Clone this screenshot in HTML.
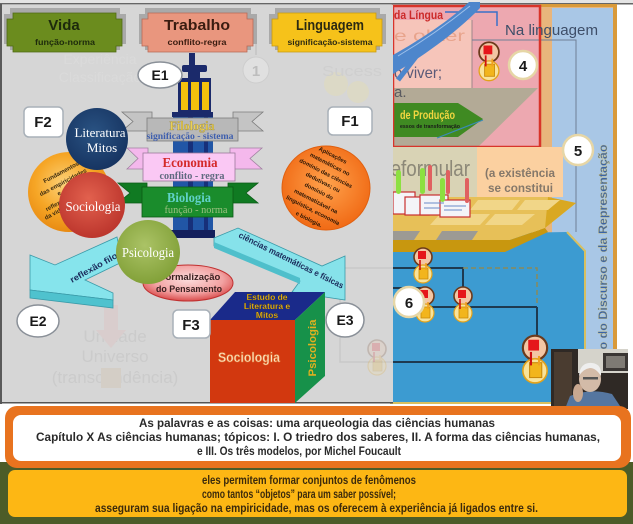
<!DOCTYPE html>
<html><head><meta charset="utf-8">
<style>
html,body{margin:0;padding:0;background:#fff;width:633px;height:524px;overflow:hidden}
svg{display:block}
text{font-family:"Liberation Sans",Arial,sans-serif}
.s{font-family:"Liberation Serif",serif}
</style></head><body>
<svg xmlns="http://www.w3.org/2000/svg" width="633" height="524" viewBox="0 0 633 524">
<defs>
 <radialGradient id="gOr" cx="45%" cy="40%" r="60%"><stop offset="0" stop-color="#fcd27a"/><stop offset="0.6" stop-color="#f6a626"/><stop offset="1" stop-color="#e88a12"/></radialGradient>
 <radialGradient id="gOr2" cx="50%" cy="45%" r="60%"><stop offset="0" stop-color="#ffa24c"/><stop offset="1" stop-color="#ef6510"/></radialGradient>
 <radialGradient id="gSoc" cx="45%" cy="40%" r="65%"><stop offset="0" stop-color="#e2614e"/><stop offset="1" stop-color="#b9322a"/></radialGradient>
 <radialGradient id="gPsi" cx="45%" cy="40%" r="65%"><stop offset="0" stop-color="#abc366"/><stop offset="1" stop-color="#7f9e35"/></radialGradient>
 <radialGradient id="gLit" cx="45%" cy="40%" r="65%"><stop offset="0" stop-color="#2a5383"/><stop offset="1" stop-color="#15325f"/></radialGradient>
 <radialGradient id="gFor" cx="50%" cy="40%" r="65%"><stop offset="0" stop-color="#fbdcdc"/><stop offset="0.6" stop-color="#f2a2a2"/><stop offset="1" stop-color="#d43a3a"/></radialGradient>
 <g id="jar">
  <circle cx="0" cy="-9" r="9" fill="#f3c6a4" stroke="#6b3a1c" stroke-width="1.6"/>
  <rect x="-5" y="-15" width="8" height="8" fill="#e5161b"/>
  <circle cx="0" cy="8" r="9" fill="#f9e39a" stroke="#e3a21a" stroke-width="1.2"/>
  <rect x="-4" y="2" width="9" height="11" fill="#f2b51c" stroke="#c98a0c" stroke-width="0.8"/>
  <path d="M-3,-6 L-3,4" stroke="#d01010" stroke-width="1.6"/>
  <path d="M3,-3 L3,4" stroke="#f0a020" stroke-width="1.6"/>
 </g>
</defs>

<!-- base -->
<rect width="633" height="524" fill="#ffffff"/>
<rect x="0" y="0" width="633" height="4" fill="#e4e4e4"/>
<rect x="0" y="3" width="633" height="1.5" fill="#666"/>

<!-- ===== right background diagram ===== -->
<rect x="540" y="5" width="77" height="399" fill="#e8b57c"/>
<rect x="552" y="8" width="61" height="396" fill="#a9c7e6"/>
<rect x="613" y="5" width="4" height="399" fill="#d99a3a"/>
<rect x="540" y="4" width="77" height="3" fill="#d99a3a"/>

<rect x="393" y="6" width="147" height="141" fill="#eda8b0"/>
<rect x="393" y="20" width="79" height="68" fill="#f6c5ba"/>
<path d="M472,20 V88" stroke="#8a7a80" stroke-width="0.8"/>
<path d="M472,40 H576 V232" fill="none" stroke="#6f7f96" stroke-width="1"/>
<polygon points="393,88 538,88 478,147 393,147" fill="#b3aa96"/>
<polygon points="393,103 458,103 483,119 458,137 393,137" fill="#3f8a22"/>
<path d="M437,138 L483,120" stroke="#3a8ab8" stroke-width="1.2"/>
<text x="400" y="119" font-size="12" font-weight="bold" fill="#f2d640" textLength="55" lengthAdjust="spacingAndGlyphs">de Produção</text>
<text x="400" y="128" font-size="5" font-weight="bold" fill="#1a1a1a" textLength="60" lengthAdjust="spacingAndGlyphs">essos de transformação</text>
<rect x="393" y="6" width="147" height="141" fill="none" stroke="#d8342a" stroke-width="2.5"/>
<text x="394" y="19" font-size="12" font-weight="bold" fill="#cc2a2a" textLength="49" lengthAdjust="spacingAndGlyphs">da Língua</text>
<path d="M445,12 H497 V26" fill="none" stroke="#3a70c8" stroke-width="1.5"/>
<text x="394" y="41" font-size="16" fill="#e8a48c" textLength="71" lengthAdjust="spacingAndGlyphs">e obter</text>
<text x="394" y="78" font-size="16" fill="#5a5a78" textLength="48" lengthAdjust="spacingAndGlyphs">o viver;</text>
<text x="394" y="97" font-size="15" fill="#5a5a60">a.</text>
<path d="M480,2 L469,2 C450,20 420,40 393,55 L393,74 C420,58 455,34 480,8 Z" fill="#4d86cc"/>
<path d="M432,36 L398,80" stroke="#4d86cc" stroke-width="5"/>
<path d="M470,6 C450,22 425,40 398,56" stroke="#9ec0ea" stroke-width="1" fill="none"/>

<text x="505" y="35" font-size="15" fill="#3e4e68" textLength="93" lengthAdjust="spacingAndGlyphs">Na linguagem</text>
<use href="#jar" transform="translate(489,62) scale(1.1)"/>
<circle cx="523" cy="65" r="14" fill="#fff" stroke="#e6d6a6" stroke-width="2.5"/>
<text x="523" y="71" font-size="15" font-weight="bold" fill="#1a1a1a" text-anchor="middle">4</text>

<!-- Reformular band -->
<rect x="378" y="147" width="99" height="50" fill="#d9d3b5"/>
<text x="377" y="176" font-size="22" fill="#8c8878" textLength="93" lengthAdjust="spacingAndGlyphs">Reformular</text>
<rect x="477" y="147" width="86" height="50" fill="#fbd0a0"/>
<text x="485" y="177" font-size="12" font-weight="bold" fill="#85786a" textLength="70" lengthAdjust="spacingAndGlyphs">(a existência</text>
<text x="488" y="192" font-size="12" font-weight="bold" fill="#85786a" textLength="65" lengthAdjust="spacingAndGlyphs">se constitui</text>

<!-- blue area + tray -->
<polygon points="390,235 567,232 585,251 585,404 390,404" fill="#3c9bd1"/>
<path d="M567,232 L585,251 V404" fill="none" stroke="#d8c060" stroke-width="2"/>
<rect x="390" y="402" width="195" height="2" fill="#d8c060"/>
<polygon points="390,197 548,197 576,203 545,228 510,240 390,240" fill="#e7c058"/>
<polygon points="548,197 576,203 545,228" fill="#d9a822"/>
<polygon points="478,200 520,200 512,210 470,210" fill="#f1d688"/>
<polygon points="525,200 560,200 548,210 517,210" fill="#f1d688"/>
<polygon points="440,214 490,214 480,225 430,225" fill="#f1d688"/>
<polygon points="495,214 535,214 522,225 485,225" fill="#f1d688"/>
<polygon points="390,231 420,231 414,240 390,240" fill="#9c9a94"/>
<polygon points="442,231 478,231 472,240 436,240" fill="#9c9a94"/>
<polygon points="390,240 510,240 545,228 548,232 505,252 390,252" fill="#c8970f"/>

<!-- cards & pins -->
<rect x="393" y="192" width="22" height="22" fill="#f4f4f8" stroke="#c83030" stroke-width="1.2"/>
<rect x="405" y="197" width="24" height="18" fill="#f4f4f8" stroke="#c83030" stroke-width="1.2"/>
<rect x="420" y="195" width="28" height="20" fill="#f4f4f8" stroke="#c83030" stroke-width="1.2"/>
<rect x="440" y="200" width="30" height="17" fill="#f4f4f8" stroke="#c83030" stroke-width="1.2"/>
<path d="M444,206 H466 M444,210 H462 M424,203 H444 M424,208 H440" stroke="#6a8ac8" stroke-width="1"/>
<rect x="396" y="170" width="5" height="24" rx="2.5" fill="#8ce040"/>
<rect x="420" y="168" width="5" height="26" rx="2.5" fill="#8ce040"/>
<rect x="440" y="178" width="5" height="24" rx="2.5" fill="#8ce040"/>
<rect x="428" y="165" width="4" height="26" rx="2" fill="#e06060"/>
<rect x="446" y="170" width="4" height="24" rx="2" fill="#e06060"/>
<rect x="465" y="178" width="4" height="25" rx="2" fill="#e06060"/>

<!-- lines in blue -->
<g stroke="#1e3a50" stroke-width="2" fill="none">
 <path d="M390,268 H463 V307"/>
 <path d="M393,288 H422 V307 H537"/>
 <path d="M537,307 V345"/>
 <path d="M390,362 H535"/>
</g>
<path d="M463,268 H537 V305" fill="none" stroke="#8a8a5a" stroke-width="1.5" stroke-dasharray="5,3"/>
<use href="#jar" transform="translate(423,266)"/>
<use href="#jar" transform="translate(425,305)"/>
<use href="#jar" transform="translate(463,305)"/>
<use href="#jar" transform="translate(535,360) scale(1.35)"/>
<circle cx="409" cy="302" r="15" fill="#fff" stroke="#e6d6a6" stroke-width="2.5"/>
<text x="409" y="308" font-size="15" font-weight="bold" fill="#1a1a1a" text-anchor="middle">6</text>

<text transform="translate(607,247) rotate(-90)" font-size="12" font-weight="bold" fill="#3a64a8" stroke="#d8c060" stroke-width="0.3" text-anchor="middle" textLength="205" lengthAdjust="spacingAndGlyphs">o do Discurso e da Representação</text>
<circle cx="578" cy="150" r="15" fill="#fff" stroke="#e6d6a6" stroke-width="2.5"/>
<text x="578" y="156" font-size="15" font-weight="bold" fill="#1a1a1a" text-anchor="middle">5</text>

<!-- webcam -->
<rect x="551" y="349" width="77" height="60" fill="#2f2925"/>
<rect x="578" y="349" width="50" height="24" fill="#d5d3cb"/>
<rect x="603" y="353" width="25" height="18" fill="#3a3634"/>
<rect x="606" y="356" width="19" height="12" fill="#7e7a74"/>
<rect x="554" y="352" width="18" height="57" fill="#4a3c30"/>
<path d="M565,409 L570,396 Q590,388 612,394 L622,409 Z" fill="#5576a0"/>
<ellipse cx="590" cy="379" rx="11" ry="13" fill="#d3bba8"/>
<path d="M579,376 Q580,362 592,363 Q602,364 601,376 Q596,368 590,368 Q583,369 579,376Z" fill="#eeeeee"/>
<rect x="583" y="377" width="15" height="2.5" fill="#555"/>
<ellipse cx="578" cy="393" rx="5" ry="9" fill="#c9a890"/>

<!-- ===== left panel ===== -->
<rect x="0" y="5" width="393" height="398" fill="#d6d6d6"/>
<rect x="0" y="4" width="2" height="400" fill="#5a5a5a"/>
<rect x="0" y="402" width="393" height="1.5" fill="#555"/>

<!-- ghosts -->
<text x="100" y="64" font-size="14" fill="#dadada" text-anchor="middle">Experiência</text>
<text x="100" y="82" font-size="14" fill="#dadada" text-anchor="middle">Classificação</text>
<circle cx="256" cy="70" r="13" fill="#e0e0e0" stroke="#cdcdcd"/>
<text x="256" y="76" font-size="15" font-weight="bold" fill="#bdbdbd" text-anchor="middle">1</text>
<path d="M256,42 V55" stroke="#c8c8c8" stroke-width="2"/>
<circle cx="336" cy="84" r="12" fill="#dcd9c6"/>
<circle cx="358" cy="92" r="11" fill="#dcd9c6"/>
<text x="322" y="76" font-size="15" fill="#cfcfcf" textLength="60" lengthAdjust="spacingAndGlyphs">Sucess</text>
<text x="115" y="342" font-size="17" fill="#cbcbcb" text-anchor="middle">Unidade</text>
<text x="115" y="362" font-size="17" fill="#cbcbcb" text-anchor="middle">Universo</text>
<text x="115" y="383" font-size="17" fill="#cbcbcb" text-anchor="middle">(transcendência)</text>
<path d="M104,305 H118 V330 H126 L111,348 L96,330 H104 Z" fill="#d9cdcd"/>
<rect x="101" y="368" width="20" height="20" fill="#d4cec6"/>
<path d="M340,268 H393 M340,268 V362 H393" stroke="#c8c8c8" stroke-width="1.5" fill="none"/>
<g opacity="0.2"><use href="#jar" transform="translate(377,358)"/></g>

<!-- headers -->
<polygon points="10,8 120,8 120,14 126,14 126,44 120,44 120,50 10,50 10,44 4,44 4,14 10,14" fill="#a9a9a9"/>
<polygon points="13,13 116,13 116,19 122,19 122,46 116,46 116,52 13,52 13,46 7,46 7,19 13,19" fill="#6b8c1e" stroke="#4f6a14" stroke-width="0.8"/>
<text x="64" y="30" font-size="15" font-weight="bold" fill="#1d2a0c" text-anchor="middle">Vida</text>
<text x="65" y="45" font-size="8.5" font-weight="bold" fill="#1d2a0c" text-anchor="middle" textLength="60" lengthAdjust="spacingAndGlyphs">função-norma</text>

<polygon points="145,8 251,8 251,14 257,14 257,44 251,44 251,50 145,50 145,44 139,44 139,14 145,14" fill="#a9a9a9"/>
<polygon points="148,13 247,13 247,19 253,19 253,46 247,46 247,52 148,52 148,46 142,46 142,19 148,19" fill="#e9967e" stroke="#b86a56" stroke-width="0.8"/>
<text x="197" y="30" font-size="15" font-weight="bold" fill="#3a1c10" text-anchor="middle" textLength="66" lengthAdjust="spacingAndGlyphs">Trabalho</text>
<text x="197" y="45" font-size="8.5" font-weight="bold" fill="#3a1c10" text-anchor="middle" textLength="59" lengthAdjust="spacingAndGlyphs">conflito-regra</text>

<polygon points="275,8 380,8 380,14 386,14 386,44 380,44 380,50 275,50 275,44 269,44 269,14 275,14" fill="#a9a9a9"/>
<polygon points="278,13 376,13 376,19 382,19 382,46 376,46 376,52 278,52 278,46 272,46 272,19 278,19" fill="#f6c21a" stroke="#c89a10" stroke-width="0.8"/>
<text x="330" y="30" font-size="15" font-weight="bold" fill="#2c2a12" text-anchor="middle" textLength="68" lengthAdjust="spacingAndGlyphs">Linguagem</text>
<text x="330" y="45" font-size="8.5" font-weight="bold" fill="#2c2a12" text-anchor="middle" textLength="85" lengthAdjust="spacingAndGlyphs">significação-sistema</text>

<!-- tower -->
<rect x="173" y="117" width="40" height="118" fill="#2156a6"/>
<rect x="188" y="117" width="5" height="118" fill="#17307a"/>
<rect x="204" y="117" width="4" height="118" fill="#17307a"/>
<rect x="163" y="230" width="52" height="8" fill="#141f5c"/>
<rect x="189" y="53" width="6" height="13" fill="#1b2a6b"/>
<rect x="182" y="65" width="25" height="7" rx="2" fill="#1b2a6b"/>
<rect x="188" y="72" width="12" height="6" fill="#1b2a6b"/>
<rect x="178" y="78" width="33" height="34" fill="#1b2a6b"/>
<rect x="181" y="82" width="7" height="28" fill="#f4c20d"/>
<rect x="191" y="82" width="8" height="28" fill="#f4c20d"/>
<rect x="202" y="82" width="7" height="28" fill="#f4c20d"/>
<rect x="172" y="112" width="41" height="5" fill="#1b2a6b"/>

<!-- Filologia -->
<polygon points="122,112 152,112 152,131 122,131 133,121.5" fill="#c4c4c4" stroke="#7c7c7c" stroke-width="0.8"/>
<polygon points="263,112 233,112 233,131 263,131 252,121.5" fill="#c4c4c4" stroke="#7c7c7c" stroke-width="0.8"/>
<rect x="147" y="118" width="91" height="23" fill="#b8b8b8" stroke="#7c7c7c" stroke-width="0.8"/>
<text class="s" x="192" y="130" font-size="13" font-weight="bold" fill="#ecd052" stroke="#8a7a30" stroke-width="0.3" text-anchor="middle" textLength="45" lengthAdjust="spacingAndGlyphs">Filologia</text>
<text class="s" x="190" y="139" font-size="9" font-weight="bold" fill="#3f5fae" text-anchor="middle" textLength="87" lengthAdjust="spacingAndGlyphs">significação - sistema</text>

<!-- Economia -->
<polygon points="127,148 148,148 148,169 127,169 138,158.5" fill="#f4b8ec" stroke="#a080a0" stroke-width="0.8"/>
<polygon points="262,148 230,148 230,169 262,169 250,158.5" fill="#f4b8ec" stroke="#a080a0" stroke-width="0.8"/>
<rect x="143" y="153" width="92" height="28" fill="#fac8f4" stroke="#9a7a9a" stroke-width="0.8"/>
<text class="s" x="190" y="167" font-size="14" font-weight="bold" fill="#d42a2a" text-anchor="middle" textLength="55" lengthAdjust="spacingAndGlyphs">Economia</text>
<text class="s" x="192" y="179" font-size="10" font-weight="bold" fill="#606a80" text-anchor="middle" textLength="65" lengthAdjust="spacingAndGlyphs">conflito - regra</text>

<!-- Biologia -->
<polygon points="118,183 147,183 147,203 118,203 130,193" fill="#107a22" stroke="#0a5a16" stroke-width="0.8"/>
<polygon points="258,183 228,183 228,203 258,203 246,193" fill="#107a22" stroke="#0a5a16" stroke-width="0.8"/>
<rect x="142" y="187" width="91" height="30" fill="#1a8c2c" stroke="#0a5a16" stroke-width="0.8"/>
<text class="s" x="189" y="202" font-size="14" font-weight="bold" fill="#60d2c8" text-anchor="middle" textLength="44" lengthAdjust="spacingAndGlyphs">Biologia</text>
<text class="s" x="196" y="213" font-size="10" fill="#9cc080" text-anchor="middle" textLength="63" lengthAdjust="spacingAndGlyphs">função - norma</text>

<!-- left orange circle -->
<ellipse cx="69" cy="192" rx="41" ry="40" fill="url(#gOr)"/>
<g font-size="6" font-weight="bold" fill="#3a2a10" text-anchor="middle">
 <text transform="translate(62,174) rotate(-28)">Fundamentos</text>
 <text transform="translate(64,184) rotate(-28)">das empiricidades</text>
 <text transform="translate(60,195) rotate(-28)">e</text>
 <text transform="translate(57,206) rotate(-28)">reflexão</text>
 <text transform="translate(55,215) rotate(-28)">da vida</text>
</g>

<!-- Literatura -->
<circle cx="97" cy="139" r="31" fill="url(#gLit)"/>
<text class="s" x="100" y="137" font-size="13" fill="#ffffff" text-anchor="middle" textLength="51" lengthAdjust="spacingAndGlyphs">Literatura</text>
<text class="s" x="102" y="152" font-size="13" fill="#ffffff" text-anchor="middle">Mitos</text>

<!-- left cyan arrow -->
<polygon points="30,255 55,265 117,237 122,262 85,280 113,293 113,300 30,290" fill="#86e4ec" stroke="#3a9aa8" stroke-width="0.8"/>
<polygon points="30,290 113,300 113,308 30,298" fill="#4fc2ce" stroke="#3a9aa8" stroke-width="0.8"/>
<text transform="translate(72,283) rotate(-29)" font-size="8.5" font-weight="bold" fill="#1a2a5a" textLength="80" lengthAdjust="spacingAndGlyphs">reflexão filosófica</text>

<!-- Sociologia -->
<circle cx="92" cy="205" r="33" fill="url(#gSoc)"/>
<text class="s" x="93" y="211" font-size="14" fill="#ffffff" text-anchor="middle" textLength="55" lengthAdjust="spacingAndGlyphs">Sociologia</text>

<!-- Formalização -->
<ellipse cx="188" cy="283" rx="45" ry="18" fill="url(#gFor)" stroke="#c03030" stroke-width="1"/>
<text x="190" y="280" font-size="9.5" font-weight="bold" fill="#3a2020" text-anchor="middle">Formalização</text>
<text x="189" y="292" font-size="9.5" font-weight="bold" fill="#3a2020" text-anchor="middle" textLength="66" lengthAdjust="spacingAndGlyphs">do Pensamento</text>

<!-- Psicologia -->
<circle cx="148" cy="252" r="32" fill="url(#gPsi)"/>
<text class="s" x="148" y="257" font-size="14" fill="#ffffff" text-anchor="middle" textLength="52" lengthAdjust="spacingAndGlyphs">Psicologia</text>

<!-- right orange circle -->
<ellipse cx="326" cy="188" rx="44" ry="42" fill="url(#gOr2)" stroke="#e06010" stroke-width="1"/>
<g font-size="5.8" font-weight="bold" fill="#2a1606" text-anchor="middle">
 <text transform="translate(332,157) rotate(27)">Aplicações</text>
 <text transform="translate(329,166) rotate(27)">matemáticas no</text>
 <text transform="translate(325,175) rotate(27)">domínio das ciências</text>
 <text transform="translate(322,184) rotate(27)">dedutivas; ou</text>
 <text transform="translate(318,193) rotate(27)">domínio do</text>
 <text transform="translate(315,203) rotate(27)">matematizável na</text>
 <text transform="translate(312,212) rotate(27)">linguística, economia</text>
 <text transform="translate(308,221) rotate(27)">e biologia.</text>
</g>

<!-- right cyan arrow -->
<polygon points="214,238 238,228 322,266 345,256 345,300 292,292 300,281 214,246" fill="#86e2ea" stroke="#3a9aa8" stroke-width="0.8"/>
<polygon points="214,242 300,278 300,284 214,248" fill="#4fbfcb"/>
<text transform="translate(238,237) rotate(26.5)" font-size="8.5" font-weight="bold" fill="#1a2a5a" textLength="116" lengthAdjust="spacingAndGlyphs">ciências matemáticas e físicas</text>

<!-- cube -->
<rect x="210" y="320" width="85" height="83" fill="#d2380f"/>
<polygon points="210,320 235,292 325,292 295,320" fill="#1a2a8a"/>
<polygon points="295,320 325,292 325,376 295,403" fill="#17914a"/>
<g font-size="8.5" font-weight="bold" fill="#f2c21a" stroke="#5a3a00" stroke-width="0.25" text-anchor="middle">
 <text x="267" y="300">Estudo de</text>
 <text x="267" y="309">Literatura e</text>
 <text x="267" y="318">Mitos</text>
</g>
<text x="249" y="362" font-size="14" font-weight="bold" fill="#fbe3c4" stroke="#e07a3a" stroke-width="0.6" text-anchor="middle" textLength="62" lengthAdjust="spacingAndGlyphs">Sociologia</text>
<text transform="translate(316,348) rotate(-90)" font-size="11" font-weight="bold" fill="#e0b020" text-anchor="middle" textLength="57" lengthAdjust="spacingAndGlyphs">Psicologia</text>

<!-- labels -->
<g font-size="14" font-weight="bold" fill="#1a1a1a" text-anchor="middle">
 <ellipse cx="160" cy="75" rx="22" ry="13" fill="#fff" stroke="#8a9098" stroke-width="1.5"/>
 <text x="160" y="80">E1</text>
 <rect x="24" y="107" width="39" height="30" rx="5" fill="#fff" stroke="#a8b0b8" stroke-width="1.5"/>
 <text x="43" y="127" font-size="15">F2</text>
 <rect x="328" y="107" width="44" height="28" rx="5" fill="#fff" stroke="#a8b0b8" stroke-width="1.5"/>
 <text x="350" y="126" font-size="15">F1</text>
 <rect x="173" y="310" width="37" height="28" rx="5" fill="#fff" stroke="#a8b0b8" stroke-width="1.5"/>
 <text x="191" y="330" font-size="15">F3</text>
 <ellipse cx="38" cy="321" rx="21" ry="16" fill="#fff" stroke="#8a9098" stroke-width="1.5"/>
 <text x="38" y="326">E2</text>
 <ellipse cx="345" cy="320" rx="19" ry="17" fill="#fff" stroke="#8a9098" stroke-width="1.5"/>
 <text x="345" y="325">E3</text>
</g>

<!-- ===== bottom ===== -->
<rect x="0" y="462" width="633" height="62" fill="#4c5c28"/>
<rect x="5" y="406" width="626" height="62" rx="12" fill="#e8731f"/>
<rect x="13" y="415" width="608" height="46" rx="8" fill="#ffffff"/>
<g font-size="11.5" font-weight="bold" fill="#2a2a2a">
 <text x="139" y="427" textLength="356" lengthAdjust="spacingAndGlyphs">As palavras e as coisas: uma arqueologia das ciências humanas</text>
 <text x="36" y="441" textLength="564" lengthAdjust="spacingAndGlyphs">Capítulo X As ciências humanas; tópicos: I. O triedro dos saberes, II. A forma das ciências humanas,</text>
 <text x="197" y="455" textLength="204" lengthAdjust="spacingAndGlyphs">e III. Os três modelos, por Michel Foucault</text>
</g>
<rect x="8" y="470" width="619" height="47" rx="7" fill="#fdb714"/>
<g font-size="11.5" font-weight="bold" fill="#3b2a0c">
 <text x="202" y="484" textLength="214" lengthAdjust="spacingAndGlyphs">eles permitem formar conjuntos de fenômenos</text>
 <text x="202" y="498" textLength="194" lengthAdjust="spacingAndGlyphs">como tantos “objetos” para um saber possível;</text>
 <text x="95" y="512" textLength="443" lengthAdjust="spacingAndGlyphs">asseguram sua ligação na empiricidade, mas os oferecem à experiência já ligados entre si.</text>
</g>
</svg>
</body></html>
